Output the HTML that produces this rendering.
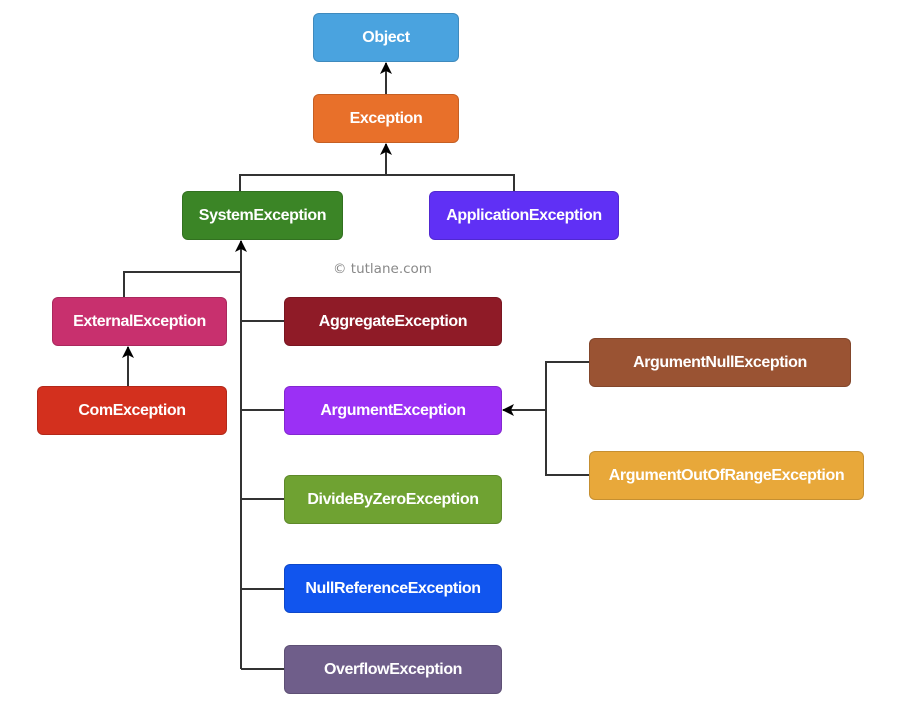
<!DOCTYPE html>
<html><head><meta charset="utf-8"><style>
body{margin:0;background:#fff;width:908px;height:704px;overflow:hidden;position:relative;font-family:"Liberation Sans",Arial,sans-serif}
.b{position:absolute;height:49px;border-radius:6px;color:#fff;font-weight:bold;font-size:16px;display:flex;align-items:center;justify-content:center;box-sizing:border-box;letter-spacing:-0.4px;border:1px solid rgba(0,0,0,0.15)}
svg{position:absolute;left:0;top:0}
</style></head><body>
<svg width="908" height="704">
<defs><marker id="a" markerWidth="12" markerHeight="12" refX="11" refY="6" orient="auto" markerUnits="userSpaceOnUse"><path d="M0,0 L12,6 L0,12 L3,6 z" fill="#000"/></marker></defs>
<g stroke="#333" stroke-width="2" fill="none">
<line x1="386" y1="94" x2="386" y2="63" marker-end="url(#a)"/>
<polyline points="240,191 240,175 514,175 514,191"/>
<line x1="386" y1="175" x2="386" y2="144" marker-end="url(#a)"/>
<line x1="241" y1="669" x2="241" y2="241" marker-end="url(#a)"/>
<polyline points="124,297 124,272 241,272"/>
<line x1="128" y1="386" x2="128" y2="347" marker-end="url(#a)"/>
<line x1="241" y1="321" x2="284" y2="321"/>
<line x1="241" y1="410" x2="284" y2="410"/>
<line x1="241" y1="499" x2="284" y2="499"/>
<line x1="241" y1="589" x2="284" y2="589"/>
<line x1="241" y1="669" x2="284" y2="669"/>
<polyline points="589,362 546,362 546,475 589,475"/>
<line x1="546" y1="410" x2="503" y2="410" marker-end="url(#a)"/>
</g>
<text x="333" y="273" font-family="DejaVu Sans,sans-serif" font-size="13.5" fill="#888">© tutlane.com</text>
</svg>
<div class="b" style="left:313px;top:13px;width:146px;background:#4aa3df">Object</div>
<div class="b" style="left:313px;top:94px;width:146px;background:#e8702a">Exception</div>
<div class="b" style="left:182px;top:191px;width:161px;background:#3b8526">SystemException</div>
<div class="b" style="left:429px;top:191px;width:190px;background:#6030f5">ApplicationException</div>
<div class="b" style="left:52px;top:297px;width:175px;background:#c8306e">ExternalException</div>
<div class="b" style="left:37px;top:386px;width:190px;background:#d3301e">ComException</div>
<div class="b" style="left:284px;top:297px;width:218px;background:#8f1b27">AggregateException</div>
<div class="b" style="left:284px;top:386px;width:218px;background:#9b30f5">ArgumentException</div>
<div class="b" style="left:284px;top:475px;width:218px;background:#6fa232">DivideByZeroException</div>
<div class="b" style="left:284px;top:564px;width:218px;background:#1155ee">NullReferenceException</div>
<div class="b" style="left:284px;top:645px;width:218px;background:#6f5e8a">OverflowException</div>
<div class="b" style="left:589px;top:338px;width:262px;background:#9a5333">ArgumentNullException</div>
<div class="b" style="left:589px;top:451px;width:275px;background:#e8a83a">ArgumentOutOfRangeException</div>
</body></html>
